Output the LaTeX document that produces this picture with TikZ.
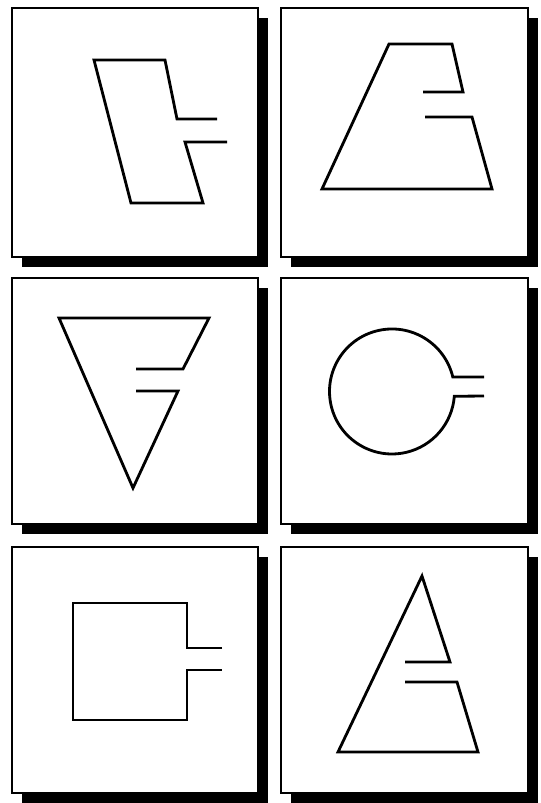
\documentclass[tikz,border=0pt]{standalone}
\usepackage{tikz}
\tikzset{
	shadowbox/.style={fill=black},
	panelbox/.style={draw=black,line width=1.6pt,fill=white},
	glyph/.style={draw=black,line width=4pt}
}

\begin{document}
\begin{tikzpicture}[x=0.5mm,y=-0.5mm]
	\useasboundingbox (0,0) rectangle (541,803);
	% panels with their shadows
	\fill[shadowbox] (22,18) rectangle (268,267);
	\draw[panelbox] (12,8) rectangle (258,257);
	\fill[shadowbox] (291,18) rectangle (538,267);
	\draw[panelbox] (281,8) rectangle (528,257);
	\fill[shadowbox] (22,288) rectangle (268,534);
	\draw[panelbox] (12,278) rectangle (258,524);
	\fill[shadowbox] (291,288) rectangle (538,534);
	\draw[panelbox] (281,278) rectangle (528,524);
	\fill[shadowbox] (22,557) rectangle (268,803);
	\draw[panelbox] (12,547) rectangle (258,793);
	\fill[shadowbox] (291,557) rectangle (538,803);
	\draw[panelbox] (281,547) rectangle (528,793);
	% outlines
	\draw[glyph] (217,119)--(177,119)--(165,60)--(94,60)--(131,203)--(203,203)--(185,142)--(227,142);
	\draw[glyph] (423,92)--(463,92)--(452,44)--(389,44)--(322,189)--(492,189)--(472,117)--(425,117);
	\draw[glyph] (136,369)--(183,369)--(209,318)--(59,318)--(133,488)--(178,391)--(136,391);
	\draw[glyph] (484,377)--(452.8,377) arc[start angle=-13.4,end angle=-355.6,radius=62.5]--(484,396);
	\draw[glyph] (222,648)--(187,648)--(187,603)--(73,603)--(73,720)--(187,720)--(187,670)--(222,670);
	\draw[glyph] (405,662)--(450,662)--(422,576)--(338,752)--(478,752)--(457,682)--(405,682);
\end{tikzpicture}
\end{document}
